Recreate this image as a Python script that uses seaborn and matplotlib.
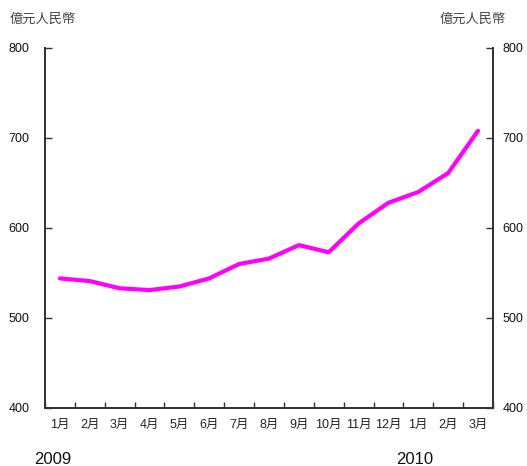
import numpy as np
import pandas as pd
import seaborn as sns
import matplotlib.pyplot as plt
from matplotlib.ticker import FixedLocator

# Monthly balance, Jan 2009 - Mar 2010 (RMB 100 million)
months = ["1月", "2月", "3月", "4月", "5月", "6月", "7月", "8月", "9月",
          "10月", "11月", "12月", "1月", "2月", "3月"]
values = [544, 541, 533, 531, 535, 544, 560, 566, 581, 573, 605, 628, 640, 661, 708]
years = ["2009", "2010"]
unit_label = "億元人民幣"
y_ticks = [400, 500, 600, 700, 800]

sns.set_theme(style="white")
plt.rcParams["font.family"] = ["Liberation Sans", "Noto Sans CJK TC", "DejaVu Sans"]
plt.rcParams["xtick.direction"] = "in"
plt.rcParams["ytick.direction"] = "in"

df = pd.DataFrame({"pos": np.arange(len(values)) + 0.5, "value": values})

fig = plt.figure(figsize=(5.27, 4.66), dpi=100)
ax = fig.add_axes([0.0854, 0.1245, 0.85, 0.7725])

sns.lineplot(data=df, x="pos", y="value", ax=ax, color="#FF00FF",
             linewidth=3.0, solid_joinstyle="round", solid_capstyle="round")

ax.set_xlim(0, len(values))
ax.set_ylim(400, 800)
ax.set_xlabel("")
ax.set_ylabel("")

# Category labels at centres, tick marks at boundaries
ax.set_xticks(df["pos"])
ax.set_xticklabels(months)
ax.xaxis.set_minor_locator(FixedLocator(np.arange(0, len(values) + 1)))
ax.tick_params(axis="x", which="major", length=0, pad=8, labelsize=9,
               colors="#222222")
ax.tick_params(axis="x", which="minor", direction="in", length=4, width=1,
               color="#333333", bottom=True, top=False)

ax.set_yticks(y_ticks)
ax.tick_params(axis="y", which="major", direction="in", length=5, width=1,
               color="#333333", labelsize=9, pad=11, left=True, right=False,
               labelcolor="#111111")

ax2 = ax.twinx()
ax2.set_ylim(400, 800)
ax2.set_yticks(y_ticks)
ax2.tick_params(axis="y", direction="in", length=5, width=1, color="#333333",
                labelsize=9, pad=7, right=True, left=False,
                labelcolor="#111111")

for a in (ax, ax2):
    a.spines["top"].set_visible(False)
    for s in ("left", "right", "bottom"):
        a.spines[s].set_color("#333333")
        a.spines[s].set_linewidth(1.3)

fig.text(10 / 527, 1 - 20 / 466, unit_label, fontsize=9.5, color="#444444",
         va="center", ha="left")
fig.text(506 / 527, 1 - 20 / 466, unit_label, fontsize=9.5, color="#444444",
         va="center", ha="right")

fig.text(53 / 527, 1 - 459 / 466, years[0], fontsize=12, color="#111111",
         va="center", ha="center")
fig.text(415 / 527, 1 - 459 / 466, years[1], fontsize=12, color="#111111",
         va="center", ha="center")

fig.savefig("out.png", dpi=100)
